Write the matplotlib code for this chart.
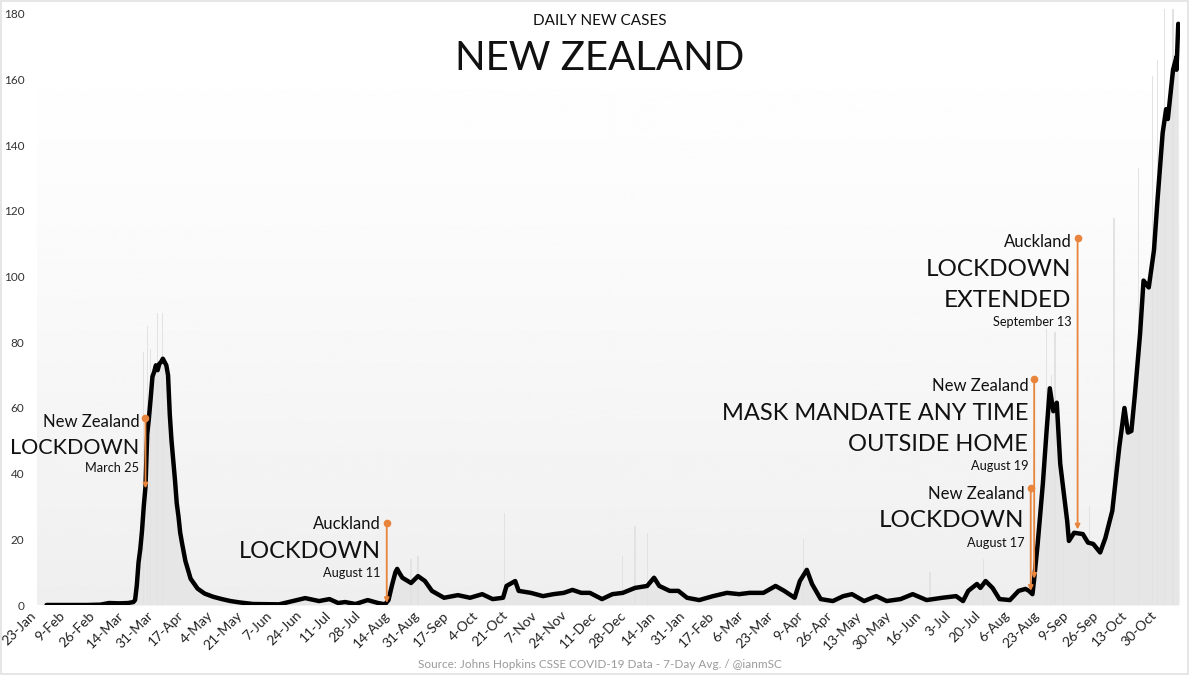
import numpy as np
import pandas as pd
import matplotlib
matplotlib.use('Agg')
import matplotlib.pyplot as plt
import matplotlib.transforms as mtransforms
from matplotlib.patches import Rectangle

plt.rcParams['font.family'] = ['Lato', 'DejaVu Sans']

# ---------------- data ----------------
avg_dates = [
    '2020-01-28', '2020-02-20', '2020-02-28', '2020-03-04', '2020-03-10', '2020-03-15',
    '2020-03-18', '2020-03-19', '2020-03-20', '2020-03-21', '2020-03-22', '2020-03-23',
    '2020-03-24', '2020-03-25', '2020-03-26', '2020-03-27', '2020-03-28', '2020-03-29',
    '2020-03-30', '2020-03-31', '2020-04-01', '2020-04-02', '2020-04-03', '2020-04-04',
    '2020-04-05', '2020-04-06', '2020-04-07', '2020-04-08', '2020-04-09', '2020-04-10',
    '2020-04-11', '2020-04-12', '2020-04-13', '2020-04-14', '2020-04-15', '2020-04-17',
    '2020-04-20', '2020-04-24', '2020-04-28', '2020-05-03', '2020-05-08', '2020-05-13',
    '2020-05-18', '2020-05-26', '2020-06-10', '2020-06-18', '2020-06-25', '2020-07-03',
    '2020-07-09', '2020-07-14', '2020-07-18', '2020-07-24', '2020-07-31', '2020-08-06',
    '2020-08-10', '2020-08-12', '2020-08-14', '2020-08-16', '2020-08-17', '2020-08-18',
    '2020-08-20', '2020-08-25', '2020-08-29', '2020-09-02', '2020-09-06', '2020-09-13',
    '2020-09-21', '2020-09-28', '2020-10-05', '2020-10-11', '2020-10-17', '2020-10-19',
    '2020-10-24', '2020-10-26', '2020-11-02', '2020-11-09', '2020-11-15', '2020-11-21',
    '2020-11-26', '2020-12-01', '2020-12-06', '2020-12-13', '2020-12-19', '2020-12-25',
    '2021-01-01', '2021-01-08', '2021-01-12', '2021-01-15', '2021-01-21', '2021-01-26',
    '2021-01-31', '2021-02-07', '2021-02-15', '2021-02-23', '2021-03-02', '2021-03-08',
    '2021-03-16', '2021-03-23', '2021-03-28', '2021-04-03', '2021-04-06', '2021-04-10',
    '2021-04-13', '2021-04-18', '2021-04-25', '2021-05-01', '2021-05-06', '2021-05-13',
    '2021-05-20', '2021-05-26', '2021-06-03', '2021-06-10', '2021-06-18', '2021-06-27',
    '2021-07-05', '2021-07-09', '2021-07-12', '2021-07-17', '2021-07-19', '2021-07-22',
    '2021-07-26', '2021-07-30', '2021-08-05', '2021-08-10', '2021-08-14', '2021-08-16',
    '2021-08-18', '2021-08-19', '2021-08-21', '2021-08-24', '2021-08-26', '2021-08-28',
    '2021-08-30', '2021-09-01', '2021-09-03', '2021-09-04', '2021-09-07', '2021-09-08',
    '2021-09-11', '2021-09-16', '2021-09-19', '2021-09-22', '2021-09-26', '2021-09-29',
    '2021-10-03', '2021-10-06', '2021-10-07', '2021-10-10', '2021-10-12', '2021-10-14',
    '2021-10-16', '2021-10-19', '2021-10-21', '2021-10-24', '2021-10-27', '2021-10-29',
    '2021-11-01', '2021-11-03', '2021-11-04', '2021-11-07', '2021-11-09', '2021-11-09',
    '2021-11-10',
]
avg_values = [
    0, 0, 0.1, 0.6, 0.5, 0.6,
    0.9, 1.5, 6, 13, 17, 22.6,
    30, 36, 52, 57, 63, 69.5,
    71, 73, 71.5, 73.5, 74, 75,
    74, 73, 70, 58, 50, 44,
    38, 31, 27, 22, 19, 13.4,
    8, 5, 3.5, 2.5, 1.8, 1.2,
    0.8, 0.3, 0.2, 1.2, 2.1, 1.2,
    1.8, 0.6, 0.9, 0.3, 1.5, 0.6,
    0.2, 1.5, 6, 10, 11, 10,
    8.3, 6.7, 8.8, 7.3, 4.3, 2.2,
    3, 2.2, 3.3, 1.8, 2.2, 5.8,
    7.3, 4.3, 3.7, 2.7, 3.3, 3.7,
    4.6, 3.7, 3.7, 1.8, 3.3, 3.7,
    5.2, 5.8, 8.3, 5.8, 4.3, 4.3,
    2.2, 1.5, 2.7, 3.7, 3.3, 3.7,
    3.7, 5.8, 4.3, 2.2, 7.3, 10.7,
    6.4, 1.8, 1.2, 2.7, 3.3, 1.2,
    2.7, 1.2, 1.8, 3.3, 1.5, 2.2,
    2.7, 1.2, 4.3, 6.4, 5.2, 7.3,
    5.2, 1.8, 1.5, 4.3, 4.9, 4.3,
    3.3, 8, 18.6, 37, 52, 66,
    59, 61.6, 43, 38.7, 25.6, 19.5,
    22, 21.6, 19, 18.6, 16, 20.4,
    28.7, 43, 48, 60, 52.5, 53,
    64, 82.6, 98.8, 96.7, 108, 123,
    143.7, 151, 148, 163, 167, 163,
    177,
]

# faint daily bars that stand out from the average
bar_dates = [
    '2020-03-24', '2020-03-26', '2020-03-28', '2020-04-01', '2020-04-04',
    '2020-08-25', '2020-08-29', '2020-10-18', '2020-12-25', '2021-01-01',
    '2021-01-08', '2021-04-08', '2021-06-20', '2021-07-21',
    '2021-08-26', '2021-08-29', '2021-08-31', '2021-09-05', '2021-09-20',
    '2021-10-04', '2021-10-18', '2021-10-26', '2021-10-29', '2021-11-02', '2021-11-07',
]
bar_values = [
    77, 85, 78, 89, 89,
    14, 15, 28, 15, 24,
    22, 20, 10, 14,
    84, 70, 83, 30, 30,
    118, 133, 161, 166, 182, 182,
]

tick_labels = [
    '23-Jan', '9-Feb', '26-Feb', '14-Mar', '31-Mar', '17-Apr', '4-May', '21-May',
    '7-Jun', '24-Jun', '11-Jul', '28-Jul', '14-Aug', '31-Aug', '17-Sep', '4-Oct',
    '21-Oct', '7-Nov', '24-Nov', '11-Dec', '28-Dec', '14-Jan', '31-Jan', '17-Feb',
    '6-Mar', '23-Mar', '9-Apr', '26-Apr', '13-May', '30-May', '16-Jun', '3-Jul',
    '20-Jul', '6-Aug', '23-Aug', '9-Sep', '26-Sep', '13-Oct', '30-Oct',
]
y_ticks = [0, 20, 40, 60, 80, 100, 120, 140, 160, 180]

ann_dates = ['2020-03-25', '2020-08-11', '2021-08-17', '2021-08-19', '2021-09-13']
ann_top = [57, 25, 35.7, 68.8, 111.8]
ann_bottom = [35.5, 0.6, 4.3, 8.0, 23.0]
ann_place = ['New Zealand', 'Auckland', 'New Zealand', 'New Zealand', 'Auckland']
ann_event = [['LOCKDOWN'], ['LOCKDOWN'], ['LOCKDOWN'],
             ['MASK MANDATE ANY TIME', 'OUTSIDE HOME'], ['LOCKDOWN', 'EXTENDED']]
ann_when = ['March 25', 'August 11', 'August 17', 'August 19', 'September 13']

# ---------------- layout (text baselines in data units) ----------------
lay_place_y = [54.1, 23.1, 32.2, 65.3, 109.1]
lay_event_y = [[46.0], [14.2], [23.7], [56.4, 46.9], [100.3, 90.7]]
lay_when_y = [40.6, 8.6, 17.8, 41.1, 85.0]
lay_event_size = [15.5, 17, 17.5, 17, 17.5]

ORANGE = '#e8843b'
W, H = 1200, 676

fig = plt.figure(figsize=(12, 6.76), dpi=100)
fig.patch.set_facecolor('white')
ax = fig.add_axes([37 / W, 71 / H, (1180 - 37) / W, (605 - 9) / H])

# gradient background
t = np.linspace(0, 1, 300)
grad = (1 - 0.065 * t ** 1.4).reshape(-1, 1)
ax.imshow(grad, cmap='gray', vmin=0, vmax=1, extent=[0, 1, 0, 1],
          transform=ax.transAxes, aspect='auto', origin='upper', zorder=0)

d_avg = pd.to_datetime(avg_dates)
d_bar = pd.to_datetime(bar_dates)

ax.fill_between(d_avg, 0, avg_values, color='#e6e6e6', lw=0, zorder=1)
ax.bar(d_bar, bar_values, width=0.7, color='#e2e2e2', zorder=1)
ax.plot(d_avg, avg_values, color='black', lw=3.2, solid_joinstyle='round',
        solid_capstyle='round', zorder=4)

# annotations
off = mtransforms.offset_copy(ax.transData, fig=fig, x=-6, y=0, units='dots')
for i, ds in enumerate(ann_dates):
    d = pd.Timestamp(ds)
    ax.annotate('', xy=(d, ann_bottom[i]), xytext=(d, ann_top[i]),
                arrowprops=dict(arrowstyle='-|>', color=ORANGE, lw=1.3,
                                mutation_scale=7, shrinkA=0, shrinkB=0), zorder=5)
    ax.plot([d], [ann_top[i]], 'o', color=ORANGE, ms=4.5, zorder=6)
    ax.text(d, lay_place_y[i], ann_place[i], transform=off, ha='right', va='baseline',
            fontsize=12, color='#111111', zorder=6)
    for line, yy in zip(ann_event[i], lay_event_y[i]):
        ax.text(d, yy, line, transform=off, ha='right', va='baseline',
                fontsize=lay_event_size[i], color='#111111', zorder=6)
    ax.text(d, lay_when_y[i], ann_when[i], transform=off, ha='right', va='baseline',
            fontsize=9.2, color='#111111', zorder=6)

# axes formatting
tick_pos = pd.date_range('2020-01-23', periods=len(tick_labels), freq='17D')
ax.set_xticks(tick_pos)
ax.set_xticklabels(tick_labels, rotation=45, ha='right', fontsize=10, color='#222222')
ax.set_yticks(y_ticks)
ax.set_yticklabels([str(v) for v in y_ticks], fontsize=8.5, color='#333333')
ax.tick_params(axis='both', length=0)
ax.tick_params(axis='y', pad=9)
ax.tick_params(axis='x', pad=3)
ax.set_xlim(pd.Timestamp('2020-01-22 12:00'), pd.Timestamp('2021-11-11'))
ax.set_ylim(0, 181.5)
for s in ax.spines.values():
    s.set_visible(False)

# titles
fig.text(0.5, 1 - 25 / H, 'DAILY NEW CASES', ha='center', va='baseline',
         fontsize=11, color='#111111')
fig.text(0.5, 1 - 70 / H, 'NEW ZEALAND', ha='center', va='baseline',
         fontsize=29, color='#111111')
fig.text(0.5, 1 - 668 / H, 'Source: Johns Hopkins CSSE COVID-19 Data - 7-Day Avg. / @ianmSC',
         ha='center', va='baseline', fontsize=8.5, color='#9a9a9a')

# outer frame
fig.patches.append(Rectangle((1 / W, 1 - 674 / H), 1187 / W, 673 / H,
                             transform=fig.transFigure, fill=False,
                             edgecolor='#e2e2e2', lw=1.2))

fig.savefig('out.png', dpi=100)
